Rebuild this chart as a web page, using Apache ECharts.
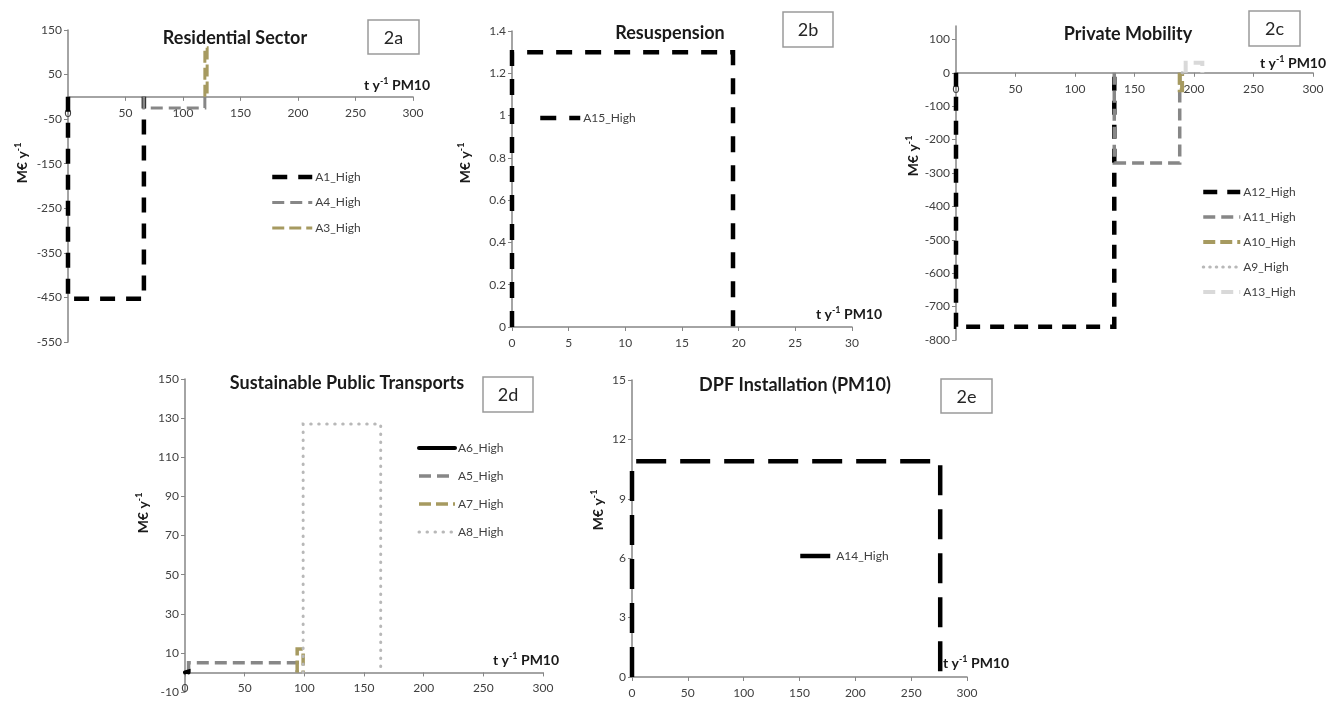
<!DOCTYPE html>
<html>
<head>
<meta charset="utf-8">
<script src="https://cdn.jsdelivr.net/npm/echarts@6/dist/echarts.min.js"></script>
<style>html,body{margin:0;padding:0;background:#fff}#c{width:1330px;height:701px}</style>
</head>
<body>
<div id="c"></div>
<script>
// ---- Data (x: t/y PM10, y: M€/y) ----
// 2a Residential Sector
const A1_x = [0, 0, 66, 66],       A1_y = [0, -453, -453, 0];
const A4_x = [66, 66, 119, 119],   A4_y = [0, -25, -25, 0];
const A3_x = [119, 119, 121, 121], A3_y = [0, 110, 110, 0];
// 2b Resuspension
const A15_x = [0, 0, 19.5, 19.5],  A15_y = [0, 1.3, 1.3, 0];
// 2c Private Mobility
const A12_x = [0, 0, 133, 133],    A12_y = [0, -760, -760, 0];
const A11_x = [133, 133, 188, 188], A11_y = [0, -270, -270, 0];
const A10_x = [188, 188, 190, 190], A10_y = [0, -52, -52, 0];
const A9_x = [190, 190, 193, 193], A9_y = [0, -5, -5, 0];
const A13_x = [193, 193, 207, 207], A13_y = [0, 30, 30, 0];
// 2d Sustainable Public Transports
const A6_x = [0, 0, 3, 3],         A6_y = [0, 0.5, 0.5, 0];
const A5_x = [3, 3, 94, 94],       A5_y = [0, 5, 5, 0];
const A7_x = [94, 94, 99, 99],     A7_y = [0, 12, 12, 0];
const A8_x = [99, 99, 164, 164],   A8_y = [0, 127, 127, 0];
// 2e DPF Installation (PM10)
const A14_x = [0, 0, 276, 276],    A14_y = [0, 10.9, 10.9, 0];

// Axis ranges [min, max, interval]
const xRange = [[0,300,50],[0,30,5],[0,300,50],[0,300,50],[0,300,50]];
const yRange = [[-550,150,100],[0,1.4,0.2],[-800,140,100],[-10,150,20],[0,15,3]];

const FONT = 'Lato, "Noto Sans", sans-serif';
const AX = '#868686', LBL = '#404040';
const BLACK = '#000000', GRAY = '#878787', KHAKI = '#a69a60', DOT = '#b8b8b8', LIGHT = '#d9d9d9';

function pts(xs, ys) { return xs.map((x, i) => [x, ys[i]]); }

const grids = [
  {left: 68, top: 30, width: 345, height: 312},
  {left: 512, top: 31, width: 340, height: 296},
  {left: 956, top: 26, width: 357, height: 314},
  {left: 185, top: 379, width: 358, height: 313},
  {left: 632, top: 380, width: 335, height: 297}
];

// x axis sits on the y = 0 line: offset from grid bottom derived from y scale
const xAxes = xRange.map((r, i) => {
  const yr = yRange[i];
  const frac = (0 - yr[0]) / (yr[1] - yr[0]);
  return {
    type: 'value', gridIndex: i, min: r[0], max: r[1], interval: r[2],
    position: 'bottom', offset: -frac * grids[i].height,
    axisLine: {onZero: false, lineStyle: {color: AX, width: 1.5}},
    axisTick: {show: true, length: 4, lineStyle: {color: AX}},
    splitLine: {show: false},
    axisLabel: {color: LBL, fontSize: 12, fontFamily: FONT, margin: 10}
  };
});
const yAxes = yRange.map((r, i) => ({
  type: 'value', gridIndex: i, min: r[0], max: r[1], interval: r[2],
  position: 'left',
  axisLine: {show: true, onZero: false, lineStyle: {color: AX, width: 1.5}},
  axisTick: {show: true, length: 4, lineStyle: {color: AX}},
  splitLine: {show: false},
  axisLabel: {color: LBL, fontSize: 12, fontFamily: FONT, margin: 6, showMaxLabel: i !== 2}
}));

function S(name, g, xs, ys, color, width, dash, cap, z) {
  return {
    type: 'line', name: name, xAxisIndex: g, yAxisIndex: g,
    data: pts(xs, ys), symbol: 'none', clip: false, z: z || 2,
    lineStyle: {color: color, width: width, type: dash, cap: cap || 'butt', join: 'miter'},
    itemStyle: {color: color}
  };
}

const series = [
  S('A1_High', 0, A1_x, A1_y, BLACK, 4.5, [15, 11]),
  S('A4_High', 0, A4_x, A4_y, GRAY, 3, [12, 6], 'butt', 3),
  S('A3_High', 0, A3_x, A3_y, KHAKI, 3, [12, 5], 'butt', 4),
  S('A15_High', 1, A15_x, A15_y, BLACK, 4.5, [16, 13]),
  S('A12_High', 2, A12_x, A12_y, BLACK, 4.5, [14, 10]),
  S('A11_High', 2, A11_x, A11_y, GRAY, 3.5, [12, 6], 'butt', 3),
  S('A10_High', 2, A10_x, A10_y, KHAKI, 4, [12, 5], 'butt', 4),
  S('A9_High', 2, A9_x, A9_y, DOT, 3, [0.5, 6], 'round', 5),
  S('A13_High', 2, A13_x, A13_y, LIGHT, 4, [12, 6], 'butt', 6),
  S('A6_High', 3, A6_x, A6_y, BLACK, 4, 'solid', 'round', 6),
  S('A5_High', 3, A5_x, A5_y, GRAY, 3.5, [12, 6], 'butt', 3),
  S('A7_High', 3, A7_x, A7_y, KHAKI, 3.5, [12, 5], 'butt', 4),
  S('A8_High', 3, A8_x, A8_y, DOT, 3, [0.5, 7.5], 'round', 5),
  S('A14_High', 4, A14_x, A14_y, BLACK, 4.5, [30, 14])
];

function L(data, left, top, w, gap) {
  return {
    data: data, orient: 'vertical', left: left, top: top,
    itemWidth: w, itemHeight: 14, itemGap: gap, padding: 0,
    itemStyle: {opacity: 0},
    lineStyle: {width: 'inherit', type: 'inherit', color: 'inherit', cap: 'inherit'},
    textStyle: {fontSize: 12, color: LBL, fontFamily: FONT, padding: [0, 0, 0, -2]},
    selectedMode: false
  };
}
const legends = [
  L(['A1_High', 'A4_High', 'A3_High'], 270, 171, 40, 13.5),
  L(['A15_High'], 538, 112, 40, 10),
  L(['A12_High', 'A11_High', 'A10_High', 'A9_High', 'A13_High'], 1201, 186, 37, 13),
  L(['A6_High', 'A5_High', 'A7_High', 'A8_High'], 417, 442, 36, 16),
  L(['A14_High'], 798, 550, 33, 10)
];

const graphics = [];
function T(text, x, y) {
  graphics.push({type: 'text', x: x, y: y, z: 100, style: {
    text: text, fill: '#1a1a1a', font: 'bold 18px ' + FONT,
    align: 'center', textAlign: 'center', verticalAlign: 'middle', textVerticalAlign: 'middle'}});
}
function B(label, x, y, w, h) {
  graphics.push({type: 'rect', z: 100, shape: {x: x, y: y, width: w, height: h},
    style: {fill: '#fff', stroke: '#9a9a9a', lineWidth: 1.5}});
  graphics.push({type: 'text', z: 101, x: x + w / 2, y: y + h / 2 + 1, style: {
    text: label, fill: '#262626', font: '18px ' + FONT,
    align: 'center', textAlign: 'center', verticalAlign: 'middle', textVerticalAlign: 'middle'}});
}
const rich = {
  b: {fontSize: 14, fontWeight: 'bold', fontFamily: FONT, fill: '#1a1a1a', color: '#1a1a1a', lineHeight: 17},
  s: {fontSize: 9, fontWeight: 'bold', fontFamily: FONT, fill: '#1a1a1a', color: '#1a1a1a', verticalAlign: 'top', lineHeight: 17}
};
function XN(x, y) {
  graphics.push({type: 'text', x: x, y: y, z: 100, style: {
    text: '{b|t y}{s|-1}{b| PM10}', rich: rich,
    align: 'left', textAlign: 'left', verticalAlign: 'middle', textVerticalAlign: 'middle'}});
}
function YN(x, y) {
  graphics.push({type: 'text', x: x, y: y, z: 100, rotation: Math.PI / 2, style: {
    text: '{b|M€ y}{s|-1}', rich: rich,
    align: 'center', textAlign: 'center', verticalAlign: 'middle', textVerticalAlign: 'middle'}});
}

T('Residential Sector', 235, 38);
T('Resuspension', 670, 33);
T('Private Mobility', 1128, 34);
T('Sustainable Public Transports', 347, 383);
T('DPF Installation (PM10)', 795, 385);

B('2a', 368, 20, 51, 34);
B('2b', 783, 12, 50, 35);
B('2c', 1249, 11, 51, 35);
B('2d', 483, 377, 50, 35);
B('2e', 941, 379, 51, 34);

XN(364, 85);
XN(816, 314);
XN(1260, 63);
XN(493, 660);
XN(943, 663);

YN(22, 163);
YN(465, 163);
YN(913, 156);
YN(143, 513);
YN(598, 510);

const chart = echarts.init(document.getElementById('c'), null, {renderer: 'canvas'});
chart.setOption({
  animation: false,
  backgroundColor: '#ffffff',
  grid: grids,
  xAxis: xAxes,
  yAxis: yAxes,
  legend: legends,
  series: series,
  graphic: graphics
});
</script>
</body>
</html>
